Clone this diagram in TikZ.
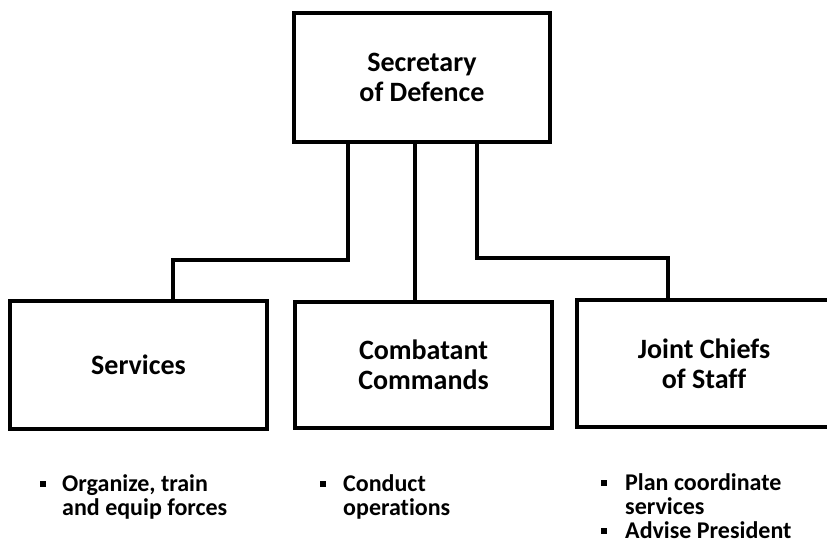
\documentclass[tikz,border=0pt]{standalone}
\usepackage{fontspec}
\setmainfont{Carlito}[Ligatures=NoCommon]
\begin{document}
\begin{tikzpicture}[x=1pt,y=-1pt,
  box/.style={draw=black,line width=3.5pt,fill=white,inner sep=0pt,align=center,
    font=\bfseries\fontsize{28}{30}\selectfont},
  conn/.style={draw=black,line width=3.5pt,line join=miter},
  item/.style={anchor=base west,inner sep=0pt,font=\bfseries\fontsize{24}{24}\selectfont},
  bul/.style={fill=black,inner sep=0pt,minimum size=6pt}]
\useasboundingbox[fill=white] (0,0) rectangle (827,543);
\coordinate (a1) at (348,0);
\coordinate (a2) at (415,0);
\coordinate (a3) at (477,0);
\coordinate (b1) at (173,0);
\coordinate (b3) at (668,0);
\coordinate (h1) at (0,260);
\coordinate (h3) at (0,258);
\node[box,minimum width=256pt,minimum height=129pt] (sec) at (422,77.5) {Secretary\\of Defence};
\node[box,minimum width=257pt,minimum height=128pt] (serv) at (138.5,365) {Services};
\node[box,minimum width=257pt,minimum height=126pt] (comb) at (423.5,365) {Combatant\\Commands};
\node[box,minimum width=254pt,minimum height=127pt] (jcs) at (704,363.5) {Joint Chiefs\\of Staff};
\draw[conn] (sec.south -| a1) -- (a1 |- h1) -- (b1 |- h1) -- (serv.north -| b1);
\draw[conn] (sec.south -| a2) -- (comb.north -| a2);
\draw[conn] (sec.south -| a3) -- (a3 |- h3) -- (b3 |- h3) -- (jcs.north -| b3);
\node[bul] (s1b) at (43,484) {};
\node[item] (s1) at (62,491) {Organize, train};
\node[item] (s2) at (62,515) {and equip forces};
\node[bul] (c1b) at (323,484) {};
\node[item] (c1) at (343,491) {Conduct};
\node[item] (c2) at (343,515) {operations};
\node[bul] (j1b) at (604,483) {};
\node[item] (j1) at (625,490) {Plan coordinate};
\node[item] (j2) at (625,514) {services};
\node[bul] (j3b) at (604,531) {};
\node[item] (j3) at (625,538) {Advise President};
\end{tikzpicture}
\end{document}
